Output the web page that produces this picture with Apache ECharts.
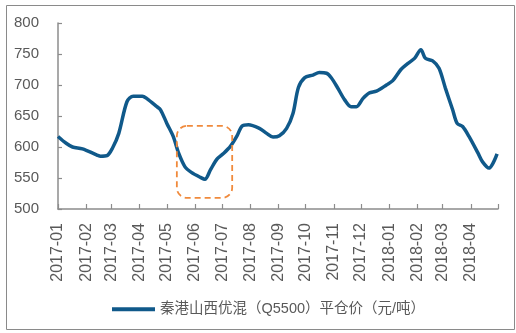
<!DOCTYPE html>
<html><head><meta charset="utf-8">
<script src="https://cdn.jsdelivr.net/npm/echarts@6/dist/echarts.min.js"></script>
<style>html,body{margin:0;padding:0;background:#fff}#c{width:516px;height:333px}</style>
</head><body><div id="c"></div>
<script>
var seriesName = '秦港山西优混（Q5500）平仓价（元/吨）';
var axisStart = '2017-01-01';
var axisEnd = '2018-05-01';
var yTicks = [500, 550, 600, 650, 700, 750, 800];
var pointDates = ['2017-01-01','2017-01-10','2017-01-17','2017-01-28','2017-02-13','2017-02-17','2017-02-24','2017-03-02','2017-03-09','2017-03-18','2017-03-25','2017-04-04','2017-04-09','2017-04-20','2017-04-24','2017-05-01','2017-05-08','2017-05-14','2017-05-21','2017-05-28','2017-06-07','2017-06-12','2017-06-18','2017-06-25','2017-07-02','2017-07-10','2017-07-17','2017-07-23','2017-07-30','2017-08-11','2017-08-19','2017-08-26','2017-09-02','2017-09-10','2017-09-17','2017-09-23','2017-09-30','2017-10-09','2017-10-16','2017-10-24','2017-10-29','2017-11-05','2017-11-13','2017-11-20','2017-11-26','2017-12-03','2017-12-10','2017-12-18','2017-12-29','2018-01-05','2018-01-14','2018-01-21','2018-01-29','2018-02-05','2018-02-10','2018-02-18','2018-02-25','2018-03-04','2018-03-12','2018-03-17','2018-03-23','2018-03-30','2018-04-09','2018-04-14','2018-04-21','2018-04-30'];
var pointValues = [617,606,600,597,587,585,586,598,622,673,682,682,678,665,660,638,617,590,568,559,551,548,563,580,589,601,617,634,636,630,622,616,618,630,654,696,712,716,720,719,712,696,676,665,665,678,687,690,700,707,725,734,743,757,743,739,727,695,660,638,633,617,590,576,566,589];
var boxDates = ['2017-05-12','2017-07-12'];
var boxValues = [518, 634];

function fmt(d){var m=d.getUTCMonth()+1,dd=d.getUTCDate();return d.getUTCFullYear()+'-'+(m<10?'0':'')+m+'-'+(dd<10?'0':'')+dd;}
var categories=[];
for(var t=Date.parse(axisStart+'T00:00:00Z'); t<=Date.parse(axisEnd+'T00:00:00Z'); t+=86400000){categories.push(fmt(new Date(t)));}
var seriesData = categories.map(function(){return null;});
pointDates.forEach(function(d,i){var k=categories.indexOf(d); if(k>=0) seriesData[k]=pointValues[i];});

var chart = echarts.init(document.getElementById('c'));
var textColor='#595959', axisColor='#8c8c8c', font='Arial, "Liberation Sans", "Noto Sans CJK SC", sans-serif';
var frame={type:'rect',left:4,top:3,shape:{width:508,height:324},style:{fill:'none',stroke:'#8a8a8a',lineWidth:1}};
chart.setOption({
  animation:false,
  grid:{left:58,right:18,top:23,bottom:124},
  xAxis:{type:'category',data:categories,boundaryGap:false,
    axisLine:{lineStyle:{color:axisColor,width:1.5}},
    axisTick:{inside:true,length:5,lineStyle:{color:axisColor,width:1.2},interval:function(i,v){return v.slice(8)==='01';}},
    axisLabel:{rotate:90,margin:14,fontSize:16,color:textColor,fontFamily:font,
      interval:function(i,v){return v.slice(8)==='01' && v!==axisEnd;},
      formatter:function(v){return v.slice(0,7);}},
    splitLine:{show:false}},
  yAxis:{type:'value',min:yTicks[0],max:yTicks[yTicks.length-1],interval:50,
    axisLine:{show:true,lineStyle:{color:axisColor,width:1.5}},
    axisTick:{show:true,inside:true,length:4,lineStyle:{color:axisColor,width:1.2}},
    axisLabel:{margin:19,fontSize:15,color:textColor,fontFamily:font},
    splitLine:{show:false}},
  legend:{left:107,top:297,icon:'rect',itemWidth:43,itemHeight:4,itemGap:10,
    textStyle:{fontSize:14.5,color:textColor,fontFamily:font},data:[seriesName]},
  series:[{name:seriesName,type:'line',data:seriesData,connectNulls:true,smooth:0.3,
    showSymbol:false,symbol:'none',lineStyle:{color:'#10598A',width:3.5},itemStyle:{color:'#10598A'}}],
  graphic:[frame]
});
var p1=chart.convertToPixel({gridIndex:0},[boxDates[0],boxValues[1]]);
var p2=chart.convertToPixel({gridIndex:0},[boxDates[1],boxValues[0]]);
chart.setOption({graphic:[frame,
  {type:'rect',shape:{x:p1[0],y:p1[1],width:p2[0]-p1[0],height:p2[1]-p1[1],r:10},
   style:{fill:'none',stroke:'#F08A3C',lineWidth:1.8,lineDash:[6,4]},z:10}]});
</script></body></html>
